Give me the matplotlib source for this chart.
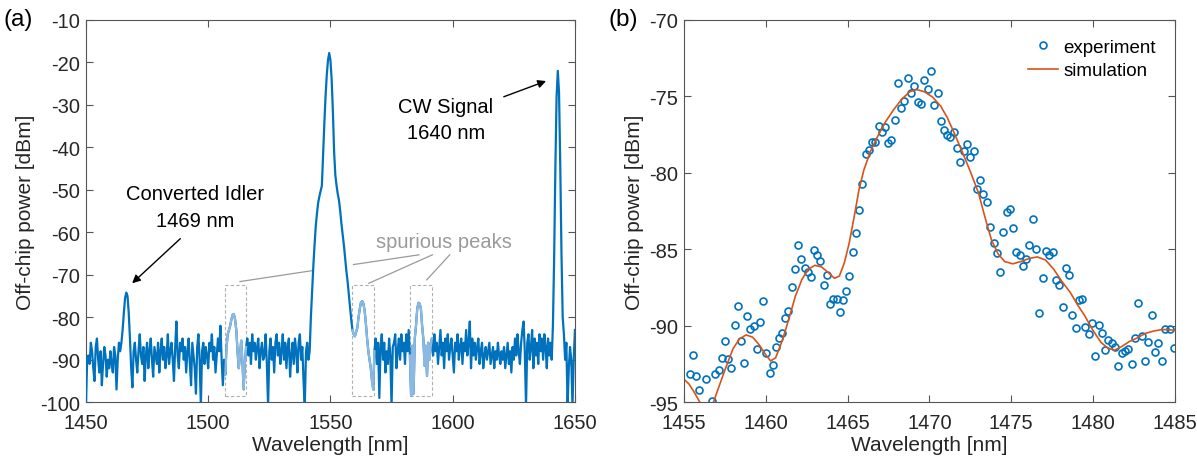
import numpy as np
import matplotlib
matplotlib.use("Agg")
import matplotlib.pyplot as plt
from matplotlib.patches import Rectangle

plt.rcParams['font.family'] = ['Liberation Sans', 'DejaVu Sans']
plt.rcParams['xtick.direction'] = 'in'
plt.rcParams['ytick.direction'] = 'in'
plt.rcParams['axes.unicode_minus'] = False

BLUE = '#0072BD'
LIGHT = '#8CB9E1'
ORANGE = '#D95319'
GREY = '#9a9a9a'

# ---------------- (a) spectrum, 0.5 nm steps from 1450 to 1650 nm
wl_a_start, wl_a_step = 1450.0, 0.5
power_a = [
    -101, -90, -89, -91, -86, -88, -92, -95, -87, -85, -90, -93, -88, -96, -91, -87, -89, -94, -90, -92,
    -88, -91, -93, -87, -89, -97, -90, -86, -88, -86, -83, -79, -75.5, -74.2, -75, -79, -85, -92, -96.5, -88,
    -86, -90, -93, -88, -84, -89, -91, -87, -95, -89, -86, -92, -88, -85, -90, -94, -87, -89, -91, -86,
    -93, -88, -85, -90, -87, -92, -89, -84, -91, -88, -86, -90, -95, -87, -81, -89, -92, -86, -88, -85,
    -90, -87, -93, -88, -85, -91, -96, -86, -89, -92, -98, -87, -84, -90, -101, -88, -86, -91, -87, -89,
    -92, -86, -88, -84, -90, -87, -93, -89, -85, -88, -82, -90, -96, -90, -93.5, -87, -84, -83, -82, -80.5,
    -79.4, -79.3, -80.5, -83, -88, -92, -89, -85.5, -90.5, -97, -91, -87, -85, -89, -86, -91, -84, -88, -86, -90,
    -87, -85, -92, -88, -86, -90, -89, -84, -91, -101, -88, -85, -90, -87, -93, -86, -84, -89, -86, -91,
    -88, -84, -90, -86, -92, -87, -85, -94, -89, -86, -91, -85, -88, -93, -86, -84, -90, -87, -95, -101,
    -88, -86, -90, -88, -80, -74, -68, -63, -58.5, -55.5, -53, -51.5, -50.2, -49, -41.5, -34.5, -28, -23, -19.5, -17.8,
    -19.5, -24, -31.5, -41, -46.5, -49, -51, -52.5, -55, -58, -60.5, -63, -66, -69, -71.5, -74.5, -77.5, -80.5, -83, -84,
    -84.5, -83.5, -82.5, -80, -78, -76.5, -76.2, -76.8, -78.5, -81.5, -85, -88, -90, -92, -95, -97, -88, -85, -91, -86,
    -99, -87, -84, -90, -86, -93, -88, -91, -85, -89, -101, -87, -86, -84, -92, -88, -85, -90, -84, -88,
    -86, -91, -84, -88, -83, -89, -98.5, -86.7, -98, -85, -82, -78, -76.6, -76.8, -78, -82, -85.1, -91.4, -86.7, -93.8,
    -86, -90, -87, -85, -89, -84, -88, -86, -91, -87, -83, -89, -86, -92, -85, -88, -84, -90, -87, -85,
    -89, -93, -86, -88, -84, -90, -87, -85, -91, -86, -88, -83, -89, -86, -81, -92, -85, -89, -86, -90,
    -87, -85, -91, -88, -86, -92, -89, -87, -90, -88, -86, -91, -89, -87, -92, -88, -90, -86, -89, -91,
    -88, -90, -87, -92, -89, -86, -91, -88, -93, -87, -90, -85, -89, -84, -88, -91, -86, -83, -81, -88,
    -101, -86, -84, -90, -87, -83, -92, -85, -89, -86, -91, -84, -88, -85, -90, -84, -87, -92, -85, -89,
    -86, -90, -82, -66, -45, -28, -22, -27, -44, -65, -80, -84, -90, -86, -101, -92, -87, -90, -101, -90,
    -83,
]
wl_a = wl_a_start + wl_a_step * np.arange(len(power_a))

# spurious peak windows [nm] and box extent [dBm]
spur_windows = [(1507.0, 1515.5), (1559.0, 1568.0), (1582.5, 1591.5)]
box_ylim = (-98.5, -72.5)

# ---------------- (b) idler conversion spectrum
wl_exp = [1455.38, 1455.57, 1455.75, 1455.94, 1456.34, 1456.72, 1456.91, 1457.12, 1457.31, 1457.50,
          1457.69, 1457.90, 1458.09, 1458.28, 1458.49, 1458.68, 1458.87, 1459.05, 1459.27, 1459.45,
          1459.64, 1459.83, 1460.02, 1460.23, 1460.42, 1460.61, 1460.80, 1461.01, 1461.20, 1461.39,
          1461.60, 1461.79, 1461.98, 1462.16, 1462.38, 1462.57, 1462.75, 1462.97, 1463.15, 1463.34,
          1463.56, 1463.74, 1463.93, 1464.14, 1464.33, 1464.52, 1464.71, 1464.92, 1465.11, 1465.32,
          1465.51, 1465.72, 1465.91, 1466.10, 1466.31, 1466.50, 1466.69, 1466.90, 1467.09, 1467.28,
          1467.49, 1467.68, 1467.89, 1468.08, 1468.29, 1468.48, 1468.69, 1468.88, 1469.09, 1469.28,
          1469.49, 1469.68, 1469.90, 1470.11, 1470.30, 1470.51, 1470.70, 1470.88, 1471.10, 1471.29,
          1471.50, 1471.69, 1471.90, 1472.09, 1472.30, 1472.49, 1472.70, 1472.89, 1473.10, 1473.31,
          1473.50, 1473.71, 1473.93, 1474.11, 1474.33, 1474.51, 1474.73, 1474.91, 1475.13, 1475.32,
          1475.53, 1475.72, 1475.93, 1476.12, 1476.33, 1476.52, 1476.73, 1476.92, 1477.13, 1477.32,
          1477.53, 1477.74, 1477.93, 1478.14, 1478.33, 1478.54, 1478.73, 1478.95, 1479.13, 1479.35,
          1479.54, 1479.75, 1479.96, 1480.15, 1480.36, 1480.55, 1480.76, 1480.95, 1481.16, 1481.35,
          1481.56, 1481.77, 1481.96, 1482.17, 1482.36, 1482.57, 1482.76, 1482.98, 1483.19, 1483.38,
          1483.59, 1483.78, 1483.99, 1484.20, 1484.39, 1484.72, 1484.93]
p_exp = [-93.18, -91.89, -93.29, -94.19, -93.51, -94.93, -93.18, -92.92, -92.11, -91.01,
         -92.15, -92.78, -89.96, -88.68, -90.99, -92.41, -89.36, -90.24, -90.00, -91.54,
         -89.78, -88.40, -91.75, -93.11, -92.54, -91.40, -90.79, -90.46, -89.52, -89.04,
         -87.48, -86.27, -84.71, -85.66, -86.23, -86.49, -86.84, -85.04, -85.35, -85.79,
         -87.35, -86.71, -88.57, -88.27, -88.27, -89.12, -88.29, -87.72, -86.73, -85.20,
         -83.95, -82.46, -80.75, -78.77, -78.51, -78.00, -78.00, -76.91, -77.30, -77.02,
         -78.05, -77.85, -76.54, -74.14, -75.79, -75.33, -73.82, -74.78, -74.34, -75.37,
         -75.50, -73.95, -74.54, -73.36, -75.59, -74.80, -76.62, -77.19, -77.54, -77.63,
         -77.35, -78.38, -79.28, -78.55, -78.11, -78.99, -78.55, -81.07, -80.50, -81.38,
         -81.91, -83.57, -84.56, -85.26, -86.51, -83.88, -82.57, -82.39, -83.62, -85.15,
         -85.39, -86.07, -85.61, -84.69, -83.05, -84.96, -89.17, -86.86, -85.13, -85.37,
         -85.20, -87.00, -87.32, -88.79, -86.25, -86.67, -89.28, -90.13, -88.31, -88.22,
         -90.11, -90.57, -89.82, -91.97, -89.96, -90.46, -91.60, -90.94, -91.16, -91.38,
         -92.65, -91.75, -91.67, -91.49, -92.48, -90.77, -88.49, -90.68, -92.32, -91.05,
         -89.30, -91.71, -91.10, -92.30, -90.18, -90.18, -91.43]

wl_sim = [1455.0, 1455.3, 1455.6, 1456.0, 1456.4, 1456.8, 1457.1, 1457.5, 1458.0, 1458.4,
          1458.8, 1459.2, 1459.6, 1460.0, 1460.3, 1460.6, 1461.0, 1461.4, 1461.8, 1462.2,
          1462.6, 1463.0, 1463.4, 1463.8, 1464.2, 1464.5, 1464.8, 1465.1, 1465.4, 1465.7,
          1466.0, 1466.4, 1466.8, 1467.3, 1467.8, 1468.3, 1468.8, 1469.2, 1469.7, 1470.2,
          1470.7, 1471.1, 1471.5, 1472.0, 1472.5, 1473.0, 1473.4, 1473.8, 1474.2, 1474.6,
          1475.1, 1475.6, 1476.1, 1476.6, 1477.1, 1477.6, 1478.1, 1478.6, 1479.1, 1479.5,
          1480.0, 1480.5, 1480.9, 1481.3, 1481.7, 1482.2, 1482.7, 1483.2, 1483.7, 1484.2,
          1484.6, 1485.0]
p_sim = [-93.5, -93.8, -94.3, -95.05, -95.5, -95.0, -94.1, -92.9, -91.5, -90.85,
         -90.6, -90.75, -91.25, -91.9, -92.3, -92.1, -91.0, -89.6, -88.1, -87.0,
         -86.3, -86.05, -86.15, -86.5, -86.9, -86.75, -85.9, -84.6, -82.9, -81.1,
         -79.8, -78.6, -77.7, -76.7, -75.9, -75.2, -74.7, -74.55, -74.7, -75.05,
         -75.65, -76.4, -77.35, -78.6, -79.9, -81.3, -82.9, -84.4, -85.3, -85.8,
         -85.95, -85.8, -85.6, -85.5, -85.7, -86.3, -87.1, -87.8, -88.7, -89.35,
         -90.3, -91.1, -91.45, -91.6, -91.4, -91.05, -90.8, -90.5, -90.35, -90.25,
         -90.25, -90.3]


def matlab_axes(ax):
    for s in ax.spines.values():
        s.set_color('#555555')
        s.set_linewidth(0.8)
    ax.tick_params(which='both', top=True, right=True, length=5, width=0.8,
                   color='#555555', labelsize=14.5, labelcolor='#262626')
    ax.tick_params(axis='x', pad=8)
    ax.tick_params(axis='y', pad=4)


fig = plt.figure(figsize=(11.97, 4.64), dpi=100)
ax1 = fig.add_axes([0.0718, 0.131, 0.4085, 0.824])
ax2 = fig.add_axes([0.5714, 0.131, 0.410, 0.824])

# ---- panel (a)
ax1.plot(wl_a, power_a, color=BLUE, lw=1.6, zorder=3)
for lo, hi in spur_windows:
    m = (wl_a >= lo) & (wl_a <= hi)
    ax1.plot(wl_a[m], np.array(power_a)[m], color=LIGHT, lw=1.6, zorder=4)
    ax1.add_patch(Rectangle((lo, box_ylim[0]), hi - lo, box_ylim[1] - box_ylim[0],
                            fill=False, ls=(0, (3, 2)), lw=0.8, ec='#b0b0b0', zorder=2))

# pointer lines from label to boxes (the pump peak hides the middle part)
ax1.plot([1513.0, 1542.9], [-71.6, -69.0], color=GREY, lw=0.9, zorder=2)
ax1.plot([1559.4, 1586.2], [-67.6, -65.3], color=GREY, lw=0.9, zorder=2)
ax1.plot([1565.7, 1591.7], [-72.0, -65.3], color=GREY, lw=0.9, zorder=2)
ax1.plot([1589.4, 1598.8], [-71.2, -65.3], color=GREY, lw=0.9, zorder=2)
ax1.text(1596.5, -62.1, 'spurious peaks', color=GREY, fontsize=14.5, ha='center', va='center')

arrow = dict(arrowstyle='-|>', color='k', lw=1.0, mutation_scale=12, shrinkA=0, shrinkB=0)
ax1.text(1494.6, -54.0, 'Converted Idler\n1469 nm', fontsize=14.5, ha='center',
         va='center', linespacing=1.5)
ax1.annotate('', xy=(1468.9, -72.0), xytext=(1488.6, -61.5), arrowprops=arrow)
ax1.text(1597.2, -33.5, 'CW Signal\n1640 nm', fontsize=14.5, ha='center',
         va='center', linespacing=1.5)
ax1.annotate('', xy=(1638.2, -24.4), xytext=(1620.9, -28.1), arrowprops=arrow)

ax1.set_xlim(1450, 1650)
ax1.set_ylim(-100, -10)
ax1.set_xticks([1450, 1500, 1550, 1600, 1650])
ax1.set_yticks(np.arange(-100, -9, 10))
ax1.set_xlabel('Wavelength [nm]', fontsize=15, color='#262626', labelpad=2)
ax1.set_ylabel('Off-chip power [dBm]', fontsize=15, color='#262626')
matlab_axes(ax1)

# ---- panel (b)
ax2.plot(wl_exp, p_exp, 'o', ms=5, mfc='none', mec=BLUE, mew=1.2, label='experiment')
ax2.plot(wl_sim, p_sim, '-', color=ORANGE, lw=1.2, label='simulation')
ax2.set_xlim(1455, 1485)
ax2.set_ylim(-95, -70)
ax2.set_xticks(np.arange(1455, 1486, 5))
ax2.set_yticks(np.arange(-95, -69, 5))
ax2.set_xlabel('Wavelength [nm]', fontsize=15, color='#262626', labelpad=2)
ax2.set_ylabel('Off-chip power [dBm]', fontsize=15, color='#262626')
matlab_axes(ax2)
ax2.legend(loc='upper right', frameon=False, fontsize=13.5, handlelength=1.6,
           handletextpad=0.3, borderaxespad=0.6, labelspacing=0.35)

fig.text(0.003, 0.957, '(a)', fontsize=17.5, va='center', ha='left')
fig.text(0.508, 0.957, '(b)', fontsize=17.5, va='center', ha='left')

fig.savefig('out.png', dpi=100)
